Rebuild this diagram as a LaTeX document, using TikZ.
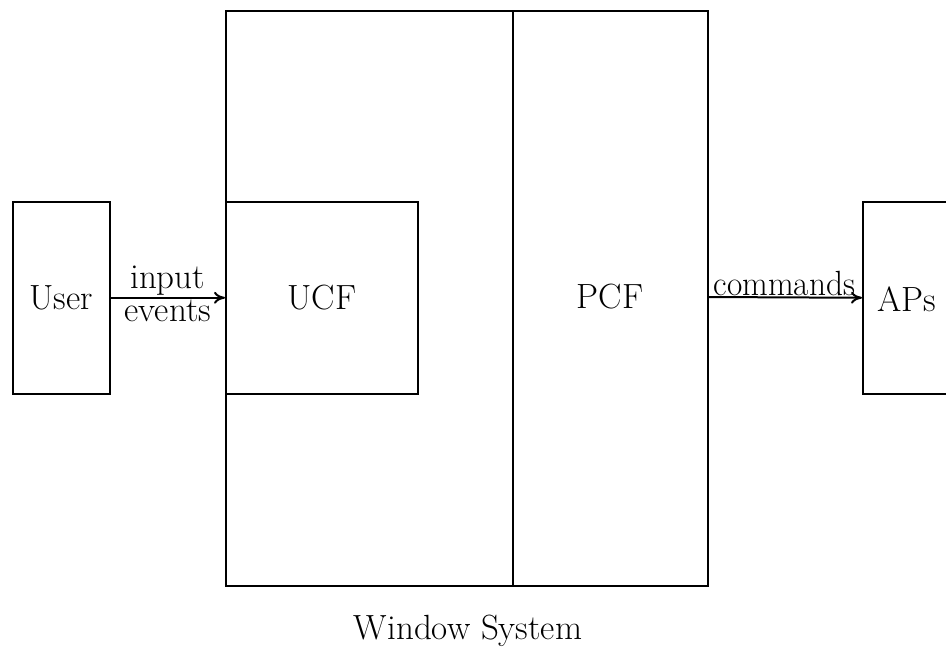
\documentclass[tikz,border=0pt]{standalone}
\usetikzlibrary{arrows.meta}
\begin{document}
\begin{tikzpicture}[x=1pt,y=-1pt,
  box/.style={draw,line width=1.5pt,rectangle,inner sep=0pt,anchor=north west},
  lbl/.style={font=\fontsize{35}{42}\selectfont},
  conn/.style={line width=2pt,-{To[length=11pt,width=12pt]}}]
\clip (0,0) rectangle (946,646);
\fill[white] (0,0) rectangle (946,646);
% boxes
\node[box,minimum width=482pt,minimum height=575pt] (ws) at (225,10) {};
\node[box,minimum width=97pt,minimum height=192pt] (user) at (12,201) {};
\node[box,minimum width=192pt,minimum height=192pt] (ucf) at (225,201) {};
\node[box,minimum width=140pt,minimum height=192pt] (aps) at (862,201) {};
\coordinate (divtop) at (513,10);
\coordinate (divbot) at (513,585);
\draw[line width=1.5pt] (divtop) -- (divbot);
% labels
\node[lbl] (tuser) at (user.center) {User};
\node[lbl] (tucf) at (ucf.center) {UCF};
\node[lbl] (tpcf) at (610,297) {PCF};
\node[lbl,anchor=west] (taps) at (874,299) {APs};
\node[lbl,anchor=base] (tws) at (468,639) {Window System};
% connectors
\draw[conn] (user.east) -- (ucf.west)
  node[midway,above,lbl,inner sep=1pt] (tin) {input}
  node[midway,below,lbl,inner sep=1pt] (tev) {events};
\coordinate (pcfr) at (707,297);
\draw[conn] (pcfr) -- (aps.west)
  node[midway,above,lbl,inner sep=1pt,xscale=0.95] (tcmd) {commands};
\end{tikzpicture}
\end{document}
